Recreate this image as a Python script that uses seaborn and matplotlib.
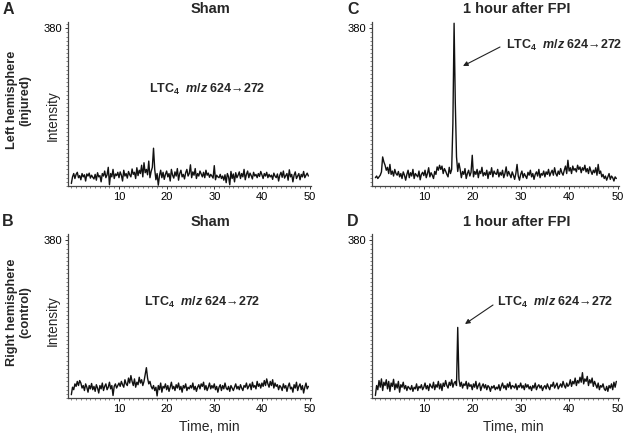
import numpy as np
import pandas as pd
import matplotlib
matplotlib.use("Agg")
import matplotlib.pyplot as plt
from matplotlib.ticker import MultipleLocator, FixedLocator
from matplotlib.patches import FancyArrowPatch
import seaborn as sns

# ---------------- data (intensity, 0.25-min sampling) -------------
sham_left = [
    6, 22, 30, 18, 28, 33, 20, 25, 15, 30, 22, 27, 12, 29, 24, 31, 19, 26, 21, 17,
    28, 14, 32, 22, 25, 10, 30, 24, 36, 20, 27, 45, 3, 30, 22, 40, 18, 29, 25, 33,
    20, 34, 26, 12, 38, 24, 30, 19, 35, 27, 22, 41, 28, 33, 18, 44, 25, 38, 30, 50,
    22, 56, 32, 40, 27, 60, 20, 35, 45, 91, 40, 15, 30, 2, 25, 38, 20, 33, 16, 28,
    36, 22, 30, 12, 40, 26, 19, 34, 24, 42, 14, 30, 38, 22, 28, 17, 32, 40, 24, 30,
    51, 20, 34, 26, 42, 18, 30, 24, 36, 29, 22, 33, 20, 38, 26, 31, 21, 28, 24, 19,
    49, 15, 26, 22, 20, 28, 18, 24, 14, 27, 8, 30, 22, 3, 35, 18, 29, 10, 32, 20,
    26, 34, 18, 30, 22, 40, 15, 28, 36, 20, 31, 25, 17, 33, 24, 28, 20, 30, 23, 35,
    27, 18, 30, 24, 33, 20, 28, 22, 26, 16, 31, 24, 20, 29, 12, 26, 33, 21, 36, 19,
    25, 30, 14, 39, 22, 28, 10, 26, 34, 18, 24, 30, 15, 28, 22, 35, 20, 26, 31, 24,
]
fpi_left = [
    20, 24, 18, 22, 26, 34, 70, 58, 50, 38, 45, 30, 52, 28, 36, 24, 40, 30, 26, 35,
    22, 30, 18, 34, 26, 14, 28, 38, 20, 32, 24, 40, 18, 30, 26, 22, 36, 15, 28, 33,
    25, 38, 20, 30, 44, 22, 32, 26, 18, 35, 28, 46, 38, 50, 40, 48, 30, 42, 36, 28,
    22, 45, 30, 40, 150, 392, 200, 70, 35, 55, 40, 20, 35, 28, 42, 18, 30, 38, 24, 33,
    74, 22, 35, 28, 40, 20, 36, 30, 45, 24, 32, 26, 38, 18, 34, 28, 44, 22, 36, 30,
    28, 40, 22, 33, 26, 38, 20, 30, 46, 24, 35, 28, 20, 34, 26, 16, 30, 52, 24, 14,
    28, 36, 20, 30, 24, 18, 33, 26, 38, 22, 30, 16, 28, 34, 24, 40, 20, 30, 26, 36,
    22, 34, 28, 40, 24, 32, 38, 26, 44, 30, 24, 36, 28, 42, 32, 26, 38, 48, 30, 62,
    36, 44, 30, 48, 38, 42, 34, 50, 40, 46, 32, 44, 38, 50, 34, 42, 30, 46, 36, 28,
    38, 32, 44, 26, 52, 30, 36, 22, 28, 18, 24, 14, 22, 30, 16, 24, 20, 12, 22, 18,
]
sham_right = [
    8, 26, 20, 34, 28, 40, 30, 42, 36, 24, 30, 18, 34, 26, 14, 30, 22, 35, 20, 28,
    16, 32, 24, 12, 30, 22, 36, 18, 28, 34, 20, 26, 38, 22, 30, 6, 28, 34, 24, 30,
    36, 28, 40, 32, 26, 44, 34, 30, 48, 36, 54, 40, 30, 46, 26, 38, 32, 50, 36, 44,
    30, 40, 56, 73, 48, 34, 40, 28, 22, 30, 18, 26, 5, 30, 20, 36, 14, 28, 24, 34,
    20, 30, 16, 26, 38, 22, 28, 18, 32, 24, 36, 20, 28, 14, 30, 24, 34, 18, 26, 22,
    30, 24, 36, 20, 28, 16, 26, 32, 22, 34, 28, 38, 20, 30, 18, 26, 36, 22, 30, 24,
    34, 20, 28, 14, 26, 32, 18, 30, 22, 36, 24, 20, 28, 16, 30, 24, 18, 26, 34, 22,
    28, 20, 32, 24, 18, 30, 26, 36, 22, 28, 34, 20, 38, 26, 30, 22, 40, 28, 34, 24,
    36, 28, 42, 30, 46, 34, 26, 40, 30, 44, 24, 36, 28, 32, 20, 30, 26, 18, 34, 24,
    30, 16, 28, 36, 22, 26, 14, 32, 24, 38, 18, 28, 34, 20, 30, 12, 26, 36, 22, 28,
]
fpi_right = [
    6, 30, 20, 42, 26, 46, 18, 38, 30, 44, 22, 40, 16, 36, 28, 45, 20, 34, 24, 40,
    14, 32, 26, 38, 22, 30, 18, 28, 24, 20, 30, 16, 26, 22, 34, 18, 28, 24, 32, 20,
    26, 36, 22, 30, 18, 34, 28, 24, 38, 20, 32, 26, 40, 22, 34, 18, 36, 28, 42, 30,
    24, 38, 30, 44, 26, 36, 40, 30, 170, 45, 28, 38, 24, 34, 30, 40, 22, 36, 28, 32,
    20, 34, 26, 40, 22, 30, 36, 18, 28, 34, 24, 32, 20, 30, 26, 16, 28, 24, 30, 20,
    26, 22, 32, 18, 28, 36, 24, 30, 20, 34, 26, 38, 22, 30, 28, 24, 34, 20, 30, 26,
    36, 24, 30, 20, 34, 26, 32, 22, 28, 18, 30, 24, 36, 20, 28, 32, 24, 30, 18, 26,
    30, 22, 34, 26, 20, 32, 28, 38, 24, 30, 36, 22, 28, 34, 26, 40, 30, 24, 36, 28,
    32, 44, 28, 40, 34, 48, 30, 42, 36, 50, 38, 61, 34, 46, 40, 52, 30, 44, 36, 48,
    28, 40, 32, 24, 36, 20, 30, 26, 34, 22, 18, 28, 16, 30, 24, 34, 20, 38, 26, 40,
]
time_step_min = 0.25
x_ticks = [10, 20, 30, 40, 50]
y_ticks = [380]
panel_letters = ["A", "C", "B", "D"]
panel_titles = ["Sham", "1 hour after FPI", "Sham", "1 hour after FPI"]
row_labels = ["Left hemisphere\n(injured)", "Right hemisphere\n(control)"]
ion_label = "LTC$_4$  $\\mathit{m/z}$ 624\u2192272"

# ---------------- style -------------
sns.set_style("ticks")
plt.rcParams["font.family"] = ["Liberation Sans", "DejaVu Sans"]
plt.rcParams["mathtext.fontset"] = "custom"
plt.rcParams["mathtext.rm"] = "Liberation Sans:bold"
plt.rcParams["mathtext.bf"] = "Liberation Sans:bold"
plt.rcParams["mathtext.it"] = "Liberation Sans:italic:bold"

W, H = 624, 434
fig = plt.figure(figsize=(W / 100, H / 100), dpi=100)


def fx(px):
    return px / W


def fy(py):
    return 1 - py / H


# axes rectangles (pixel edges: left, top, right, bottom)
rects = [(68, 22, 311, 186), (372, 22, 619, 186), (68, 234, 311, 398), (372, 234, 619, 398)]
series = [sham_left, fpi_left, sham_right, fpi_right]

axes = []
for (l, t, r, b), vals in zip(rects, series):
    ax = fig.add_axes([fx(l), fy(b), fx(r) - fx(l), fy(t) - fy(b)])
    n = len(vals)
    df = pd.DataFrame({"time": np.arange(n) * time_step_min, "intensity": vals})
    sns.lineplot(data=df, x="time", y="intensity", ax=ax, color="#111111",
                 linewidth=1.0, estimator=None)
    ax.set_xlim(-0.7, 50.3)
    ax.set_ylim(0, 395)
    ax.set_xlabel("")
    ax.set_ylabel("")
    ax.xaxis.set_major_locator(FixedLocator(x_ticks))
    ax.xaxis.set_minor_locator(MultipleLocator(1))
    ax.yaxis.set_major_locator(FixedLocator(y_ticks))
    ax.yaxis.set_minor_locator(MultipleLocator(10))
    ax.tick_params(axis="both", which="major", labelsize=8, length=2, width=0.7,
                   pad=2, colors="#333333", labelcolor="black")
    ax.tick_params(axis="both", which="minor", length=1.5, width=0.5, colors="#555555")
    for s in ["top", "right"]:
        ax.spines[s].set_visible(False)
    for s in ["left", "bottom"]:
        ax.spines[s].set_linewidth(0.9)
        ax.spines[s].set_color("#444444")
    axes.append(ax)

# panel letters and titles
letter_pos = [(8, 9), (353, 9), (8, 222), (353, 222)]
title_pos = [(210, 9), (517, 9), (210, 222), (517, 222)]
for (lx, ly), (tx, ty), letter, title in zip(letter_pos, title_pos, panel_letters, panel_titles):
    fig.text(fx(lx), fy(ly), letter, fontsize=11.5, fontweight="bold", ha="center", va="center")
    fig.text(fx(tx), fy(ty), title, fontsize=10.5, fontweight="bold", ha="center", va="center")

# row labels
for label, cy in zip(row_labels, [100, 312]):
    fig.text(fx(19), fy(cy), label, fontsize=9.2, fontweight="bold", rotation=90,
             ha="center", va="center", linespacing=1.15, multialignment="center")

# Intensity labels
for cy in [116, 321]:
    fig.text(fx(53), fy(cy), "Intensity", fontsize=9.8, rotation=90, ha="center", va="center")

# Time labels
for cx in [209, 513]:
    fig.text(fx(cx), fy(427), "Time, min", fontsize=10, ha="center", va="center")

# ion annotations
fs_ion = 9
fig.text(fx(207), fy(89), ion_label, fontsize=fs_ion, fontweight="bold", ha="center", va="center")
fig.text(fx(202), fy(302), ion_label, fontsize=fs_ion, fontweight="bold", ha="center", va="center")
fig.text(fx(506), fy(45), ion_label, fontsize=fs_ion, fontweight="bold", ha="left", va="center")
fig.text(fx(497), fy(302), ion_label, fontsize=fs_ion, fontweight="bold", ha="left", va="center")

arrow_props = dict(arrowstyle="-|>", lw=0.8, color="#222222", mutation_scale=7,
                   shrinkA=0, shrinkB=0)
fig.add_artist(FancyArrowPatch((fx(500), fy(47)), (fx(463), fy(66)),
                               transform=fig.transFigure, **arrow_props))
fig.add_artist(FancyArrowPatch((fx(493), fy(305)), (fx(465), fy(324)),
                               transform=fig.transFigure, **arrow_props))

fig.savefig("out.png", dpi=100)
